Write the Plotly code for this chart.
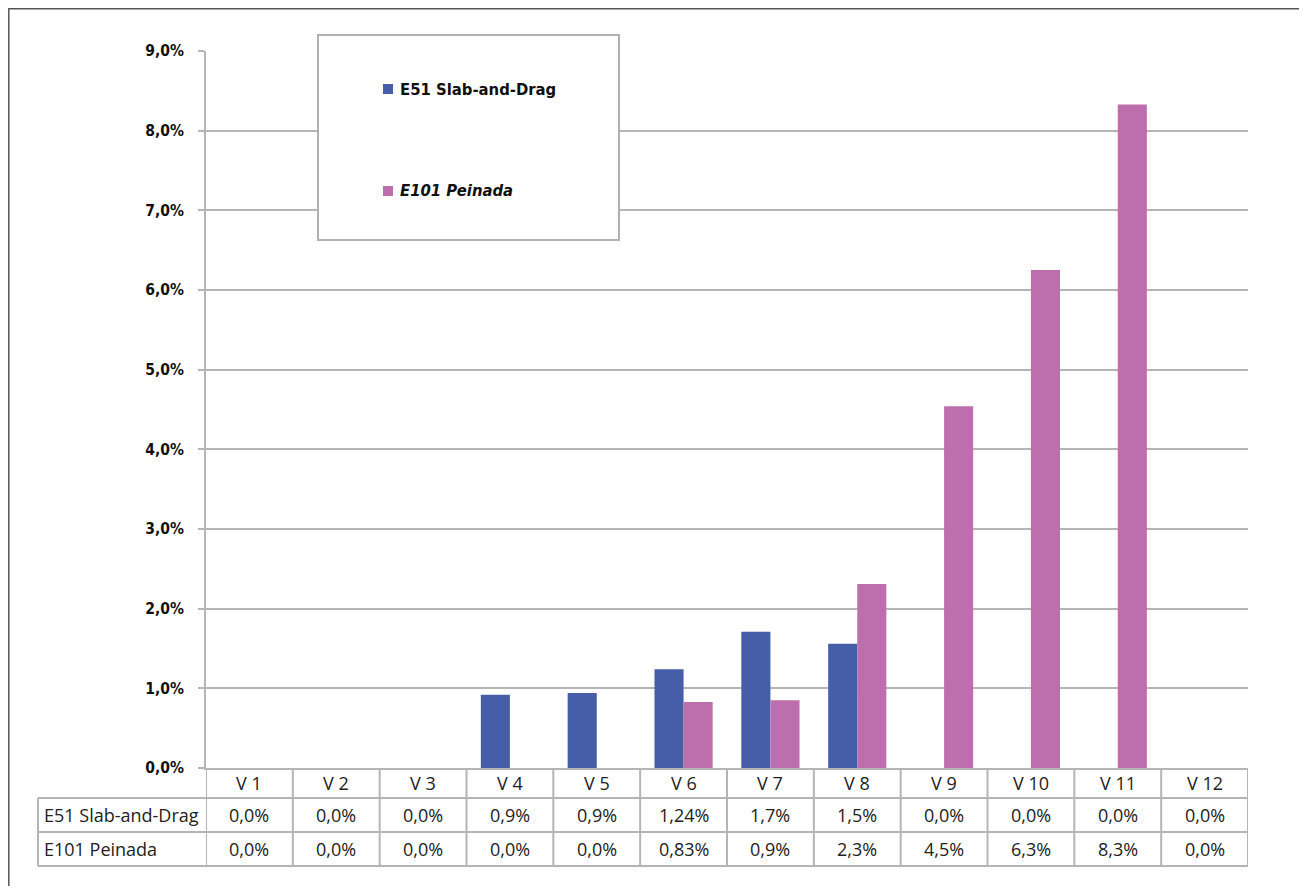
import plotly.graph_objects as go

categories = ["V 1", "V 2", "V 3", "V 4", "V 5", "V 6", "V 7", "V 8", "V 9", "V 10", "V 11", "V 12"]
series_names = ["E51 Slab-and-Drag", "E101 Peinada"]
slab_values = [0, 0, 0, 0.92, 0.94, 1.24, 1.71, 1.56, 0, 0, 0, 0]
peinada_values = [0, 0, 0, 0, 0, 0.83, 0.85, 2.31, 4.54, 6.25, 8.33, 0]
slab_table = ["0,0%", "0,0%", "0,0%", "0,9%", "0,9%", "1,24%", "1,7%", "1,5%", "0,0%", "0,0%", "0,0%", "0,0%"]
peinada_table = ["0,0%", "0,0%", "0,0%", "0,0%", "0,0%", "0,83%", "0,9%", "2,3%", "4,5%", "6,3%", "8,3%", "0,0%"]
y_tickvals = [0, 1, 2, 3, 4, 5, 6, 7, 8, 9]
y_ticktext = ["0,0%", "1,0%", "2,0%", "3,0%", "4,0%", "5,0%", "6,0%", "7,0%", "8,0%", "9,0%"]

BLUE = "#465DA8"
PINK = "#BD6FAD"
COLORS = [BLUE, PINK]
GRID = "#B5B5B5"
TXT = "#222222"
TFONT = "Open Sans"
BFONT = "DejaVu Sans Condensed"

OFF = 8  # page body margin
W, H = 1291, 878
L, T = 206 - OFF, 51 - OFF
R = W - (1248 - OFF)
B = H - (768 - OFF)
plot_h = H - T - B
plot_w = W - L - R


def py(pix):
    # pix: screen pixel y in reference
    return (768 - pix) / plot_h


def px(pix):
    return ((pix - OFF) - L) / plot_w


fig = go.Figure()
fig.add_trace(go.Bar(x=categories, y=slab_values, name=series_names[0],
                     marker=dict(color=BLUE, line=dict(width=0))))
fig.add_trace(go.Bar(x=categories, y=peinada_values, name=series_names[1],
                     marker=dict(color=PINK, line=dict(width=0))))

shapes = []
# outer chart border (top and left visible)
shapes.append(dict(type="rect", xref="paper", yref="paper", x0=px(8.8), x1=px(1340), y0=py(8.8), y1=py(930),
                   line=dict(color="#555555", width=1.5), fillcolor="rgba(0,0,0,0)", layer="below"))
# legend box
shapes.append(dict(type="rect", xref="paper", yref="paper", x0=px(318), x1=px(619), y0=py(35), y1=py(240),
                   line=dict(color="#B0B0B0", width=2), fillcolor="white", layer="above"))

line_style = dict(color="#B5B5B5", width=2)
for yy in (798, 832, 866):
    shapes.append(dict(type="line", xref="paper", yref="paper", x0=px(38), x1=1, y0=py(yy), y1=py(yy), line=line_style))
shapes.append(dict(type="line", xref="paper", yref="paper", x0=px(38), x1=px(38), y0=py(798), y1=py(866), line=line_style))
for i in range(len(categories) + 1):
    shapes.append(dict(type="line", xref="x", yref="paper", x0=i - 0.5, x1=i - 0.5,
                       y0=0, y1=py(866), line=line_style))

tfont = dict(family=TFONT, size=18, color=TXT)
annotations = []
for i, c in enumerate(categories):
    annotations.append(dict(x=c, y=py(783), xref="x", yref="paper", text=c, showarrow=False,
                            font=tfont, xanchor="center", yanchor="middle"))
    annotations.append(dict(x=c, y=py(815), xref="x", yref="paper", text=slab_table[i], showarrow=False,
                            font=tfont, xanchor="center", yanchor="middle"))
    annotations.append(dict(x=c, y=py(849), xref="x", yref="paper", text=peinada_table[i], showarrow=False,
                            font=tfont, xanchor="center", yanchor="middle"))
annotations.append(dict(x=px(42), y=py(815), xref="paper", yref="paper", text=series_names[0], showarrow=False,
                        font=tfont, xanchor="left", yanchor="middle"))
annotations.append(dict(x=px(42), y=py(849), xref="paper", yref="paper", text=series_names[1], showarrow=False,
                        font=tfont, xanchor="left", yanchor="middle"))

# legend entries (drawn inside the legend box)
legend_y = [89, 191]
legend_text = ["<b>" + series_names[0] + "</b>", "<b><i>" + series_names[1] + "</i></b>"]
for k in range(2):
    yc = legend_y[k]
    shapes.append(dict(type="rect", xref="paper", yref="paper", x0=px(383), x1=px(393),
                       y0=py(yc - 5), y1=py(yc + 5), line=dict(width=0), fillcolor=COLORS[k], layer="above"))
    annotations.append(dict(x=px(398), y=py(yc), xref="paper", yref="paper", text=legend_text[k],
                            showarrow=False, xanchor="left", yanchor="middle",
                            font=dict(family=BFONT, size=16.5, color="#111111")))

fig.update_layout(
    width=W, height=H,
    margin=dict(l=L, r=R, t=T, b=B),
    paper_bgcolor="white", plot_bgcolor="white",
    barmode="group", bargap=0.33, bargroupgap=0,
    showlegend=False,
    xaxis=dict(type="category", range=[-0.5, 11.5], showticklabels=False, showgrid=False,
               showline=True, linecolor=GRID, linewidth=2, ticks="", zeroline=False),
    yaxis=dict(range=[0, 9], tickvals=y_tickvals, ticktext=y_ticktext, showgrid=True,
               gridcolor=GRID, gridwidth=2, showline=True, linecolor=GRID, linewidth=2,
               ticks="outside", ticklen=6, tickcolor=GRID, tickwidth=2, zeroline=False,
               ticklabelstandoff=11,
               tickfont=dict(family=BFONT, size=15.5, color="#111111", weight="bold")),
    shapes=shapes,
    annotations=annotations,
)

fig.write_html("out.html")
